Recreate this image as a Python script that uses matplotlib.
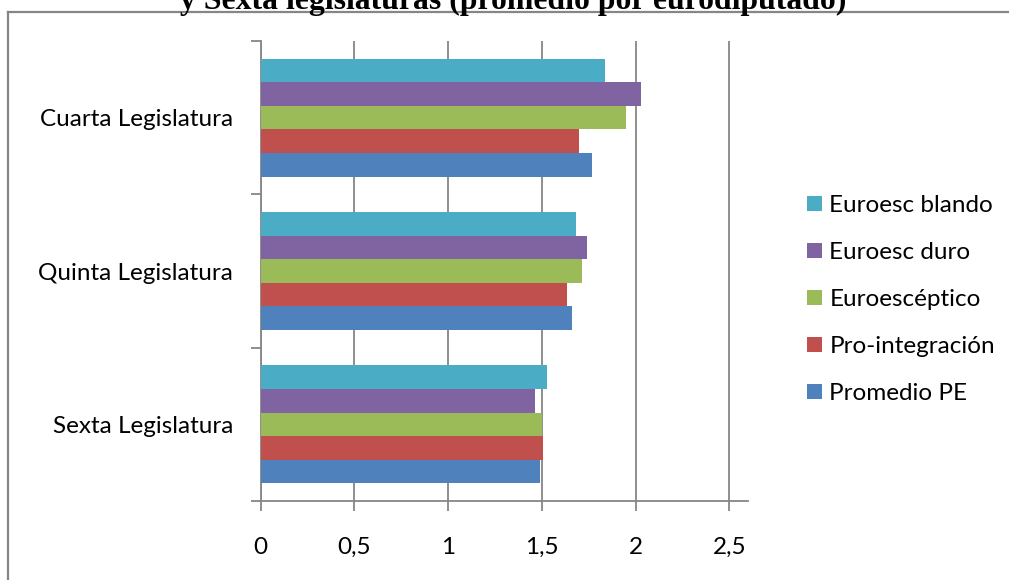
import matplotlib
matplotlib.use("Agg")
import matplotlib.pyplot as plt
from matplotlib.lines import Line2D
from matplotlib.patches import Patch
import numpy as np

categories = ["Sexta Legislatura", "Quinta Legislatura", "Cuarta Legislatura"]
series_names = ["Promedio PE", "Pro-integración", "Euroescéptico", "Euroesc duro", "Euroesc blando"]
promedio_pe = [1.49, 1.66, 1.77]
pro_integracion = [1.505, 1.635, 1.70]
euroesceptico = [1.50, 1.715, 1.95]
euroesc_duro = [1.465, 1.74, 2.03]
euroesc_blando = [1.525, 1.68, 1.835]
x_ticks = [0, 0.5, 1, 1.5, 2, 2.5]
x_tick_labels = ["0", "0,5", "1", "1,5", "2", "2,5"]
title = "y Sexta legislaturas (promedio por eurodiputado)"

colors = ["#4F81BD", "#C0504D", "#9BBB59", "#8064A2", "#4BACC6"]
values = [promedio_pe, pro_integracion, euroesceptico, euroesc_duro, euroesc_blando]

font = "Lato"
fsize = 17.5
grey = "#868686"

fig = plt.figure(figsize=(10.09, 5.8), dpi=100)
ax = fig.add_axes([260.7 / 1009, 79 / 580, (748 - 260.7) / 1009, 460 / 580])

n = len(series_names)
h = 1.0 / (n + 1.5)
y = np.arange(len(categories))
for j, (vals, col) in enumerate(zip(values, colors)):
    ax.barh(y + (j - (n - 1) / 2) * h, vals, height=h, color=col, zorder=3,
            linewidth=0)

ax.set_xlim(0, 2.6)
ax.set_ylim(-0.5, len(categories) - 0.5)
ax.set_xticks(x_ticks)
ax.set_xticklabels(x_tick_labels, fontfamily=font, fontsize=fsize)
ax.xaxis.grid(True, color=grey, linewidth=1.3, zorder=0)

ax.set_yticks(np.arange(len(categories) + 1) - 0.5)
ax.set_yticklabels([])
ax.set_yticks(y, minor=True)
ax.set_yticklabels(categories, minor=True, fontfamily=font, fontsize=fsize)
ax.tick_params(axis="y", which="minor", length=0, pad=20)
ax.tick_params(axis="both", which="major", length=7, width=1.3, color=grey,
               direction="out")
ax.tick_params(axis="x", pad=19)

for side in ("top", "right"):
    ax.spines[side].set_visible(False)
for side in ("left", "bottom"):
    ax.spines[side].set_color(grey)
    ax.spines[side].set_linewidth(1.3)

handles = [Patch(facecolor=c, edgecolor="none") for c in colors][::-1]
fig.legend(handles, series_names[::-1], loc="center left",
           bbox_to_anchor=(807 / 1009, 1 - 299.5 / 580), frameon=False,
           prop={"family": font, "size": fsize}, handlelength=0.62,
           handleheight=0.62, handletextpad=0.3, labelspacing=1.07,
           borderpad=0, borderaxespad=0)

fig.text(513 / 1009, 1 - 9 / 580, title, ha="center", va="baseline",
         fontfamily="Liberation Serif", fontweight="bold", fontsize=22.9)

# outer chart frame
fig.add_artist(Line2D([8 / 1009, 1.0], [1 - 12 / 580, 1 - 12 / 580],
                      color=grey, linewidth=1.6, transform=fig.transFigure))
fig.add_artist(Line2D([8 / 1009, 8 / 1009], [0, 1 - 12 / 580],
                      color=grey, linewidth=1.6, transform=fig.transFigure))

fig.savefig("out.png", dpi=100)
